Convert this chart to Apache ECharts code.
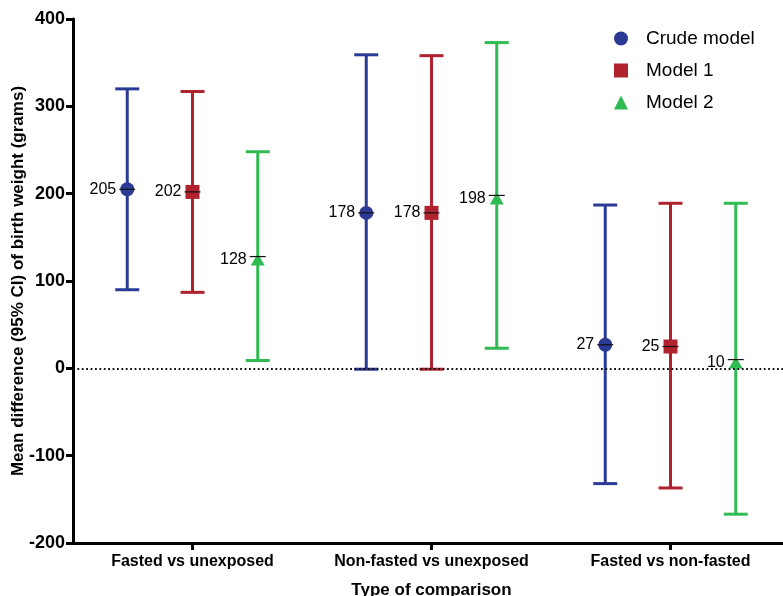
<!DOCTYPE html>
<html>
<head>
<meta charset="utf-8">
<script src="https://cdn.jsdelivr.net/npm/echarts@6/dist/echarts.min.js"></script>
<style>
html,body{margin:0;padding:0;background:#fff;}
#chart{width:783px;height:596px;}
</style>
</head>
<body>
<div id="chart"></div>
<script>
// ---- data ----
const categories = ['Fasted vs unexposed', 'Non-fasted vs unexposed', 'Fasted vs non-fasted'];
const seriesNames = ['Crude model', 'Model 1', 'Model 2'];

const crudeMean = [205, 178, 27];
const crudeLow  = [90, -1, -132];
const crudeHigh = [320, 359, 187];

const model1Mean = [202, 178, 25];
const model1Low  = [87, -1, -137];
const model1High = [317, 358, 189];

const model2Mean = [128, 198, 10];
const model2Low  = [9, 23, -167];
const model2High = [248, 373, 189];

const yMin = -200, yMax = 400, yStep = 100;

// ---- styling ----
const FONT = 'Liberation Sans, Arial, Helvetica, sans-serif';
const styles = [
  { color: '#2b3b95', symbol: 'circle',   size: 14,       offset: -0.273, symOffset: [0, 0] },
  { color: '#b0222e', symbol: 'rect',     size: 14,       offset: 0,      symOffset: [0, 0] },
  { color: '#2fba52', symbol: 'triangle', size: [14, 12], offset: 0.273,  symOffset: [0, 3] }
];
const models = [
  { mean: crudeMean,  low: crudeLow,  high: crudeHigh },
  { mean: model1Mean, low: model1Low, high: model1High },
  { mean: model2Mean, low: model2Low, high: model2High }
];
const tickValues = categories.map((c, i) => i);

function errorBarRender(color) {
  return function (params, api) {
    const x = api.value(0);
    const lo = api.coord([x, api.value(1)]);
    const hi = api.coord([x, api.value(2)]);
    const hw = 12;
    const st = { stroke: color, lineWidth: 3 };
    return {
      type: 'group',
      children: [
        { type: 'line', shape: { x1: lo[0], y1: lo[1], x2: hi[0], y2: hi[1] }, style: st },
        { type: 'line', shape: { x1: hi[0] - hw, y1: hi[1], x2: hi[0] + hw, y2: hi[1] }, style: st },
        { type: 'line', shape: { x1: lo[0] - hw, y1: lo[1], x2: lo[0] + hw, y2: lo[1] }, style: st }
      ]
    };
  };
}
function meanLineRender(params, api) {
  const p = api.coord([api.value(0), api.value(1)]);
  return {
    type: 'line',
    shape: { x1: p[0] - 8, y1: p[1], x2: p[0] + 8, y2: p[1] },
    style: { stroke: '#111', lineWidth: 1.2 }
  };
}

const series = [];
models.forEach((m, k) => {
  const s = styles[k];
  const xs = m.mean.map((v, i) => i + s.offset);
  series.push({
    name: seriesNames[k] + ' CI',
    type: 'custom',
    renderItem: errorBarRender(s.color),
    encode: { x: 0, y: [1, 2] },
    data: xs.map((x, i) => [x, m.low[i], m.high[i]]),
    z: 2,
    silent: true
  });
});
models.forEach((m, k) => {
  const s = styles[k];
  const xs = m.mean.map((v, i) => i + s.offset);
  const sc = {
    name: seriesNames[k],
    type: 'scatter',
    symbol: s.symbol,
    symbolSize: s.size,
    symbolOffset: s.symOffset,
    itemStyle: { color: s.color, opacity: 1 },
    data: xs.map((x, i) => [x, m.mean[i]]),
    z: 3,
    label: {
      show: true,
      position: 'left',
      distance: 4,
      color: '#000',
      fontSize: 16,
      fontFamily: FONT,
      formatter: p => String(p.value[1])
    }
  };
  if (k === 0) {
    sc.markLine = {
      silent: true,
      symbol: 'none',
      label: { show: false },
      lineStyle: { color: '#111', width: 1.8, type: [1.8, 2.6] },
      data: [{ yAxis: 0 }],
      z: 5
    };
  }
  series.push(sc);
});
models.forEach((m, k) => {
  const s = styles[k];
  const xs = m.mean.map((v, i) => i + s.offset);
  series.push({
    name: seriesNames[k] + ' mean',
    type: 'custom',
    renderItem: meanLineRender,
    data: xs.map((x, i) => [x, m.mean[i]]),
    z: 4,
    silent: true
  });
});

const chart = echarts.init(document.getElementById('chart'), null, { renderer: 'canvas' });
chart.setOption({
  backgroundColor: '#fff',
  animation: false,
  grid: { left: 73, right: -7, top: 19, bottom: 53, containLabel: false, outerBoundsMode: 'none' },
  legend: {
    data: [
      { name: seriesNames[0], icon: 'circle' },
      { name: seriesNames[1], icon: 'rect' },
      { name: seriesNames[2], icon: 'triangle' }
    ],
    orient: 'vertical',
    left: 614,
    top: 29,
    padding: 0,
    itemWidth: 14,
    itemHeight: 14,
    itemGap: 13,
    textStyle: { fontSize: 19, color: '#000', fontFamily: FONT, padding: [0, 0, 0, 13] }
  },
  xAxis: {
    type: 'value',
    min: -0.5,
    max: categories.length - 0.5,
    name: 'Type of comparison',
    nameLocation: 'middle',
    nameGap: 39,
    nameMoveOverlap: false,
    nameTextStyle: { fontSize: 17, fontWeight: 'bold', color: '#000', fontFamily: FONT },
    axisLine: { onZero: false, lineStyle: { color: '#000', width: 3 } },
    axisTick: { show: true, customValues: tickValues, length: 7, lineStyle: { color: '#000', width: 3 } },
    axisLabel: {
      customValues: tickValues,
      formatter: v => categories[Math.round(v)] || '',
      fontSize: 16, fontWeight: 'bold', color: '#000', fontFamily: FONT, margin: 11
    },
    splitLine: { show: false }
  },
  yAxis: {
    type: 'value',
    min: yMin, max: yMax, interval: yStep,
    name: 'Mean difference (95% CI) of birth weight (grams)',
    nameLocation: 'middle',
    nameGap: 46,
    nameMoveOverlap: false,
    nameTextStyle: { fontSize: 17, fontWeight: 'bold', color: '#000', fontFamily: FONT },
    axisLine: { show: true, onZero: false, lineStyle: { color: '#000', width: 3 } },
    axisTick: { show: true, length: 7, lineStyle: { color: '#000', width: 3 } },
    axisLabel: { fontSize: 18, fontWeight: 'bold', color: '#000', fontFamily: FONT, margin: 8 },
    splitLine: { show: false }
  },
  series: series
});
</script>
</body>
</html>
